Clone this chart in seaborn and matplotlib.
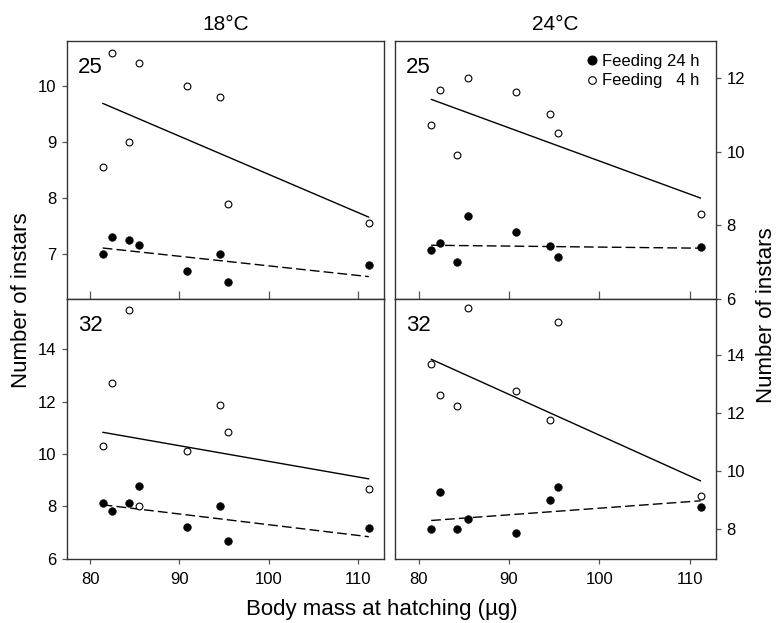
import matplotlib
matplotlib.use("Agg")
import matplotlib.pyplot as plt
from matplotlib.lines import Line2D
import seaborn as sns

sns.set_theme(style="ticks")
plt.rcParams["font.family"] = ["Liberation Sans", "DejaVu Sans"]
plt.rcParams["text.color"] = "black"
plt.rcParams["xtick.labelcolor"] = "black"
plt.rcParams["ytick.labelcolor"] = "black"

# -------------------------------------------------------------
# Data
# -------------------------------------------------------------
mass = [81.4, 82.4, 84.3, 85.5, 90.8, 94.5, 95.4, 111.2]

# 18 C, 25 / 32 panels
t18_25_fed24 = [7.00, 7.30, 7.25, 7.17, 6.70, 7.00, 6.50, 6.80]
t18_25_fed4 = [8.56, 10.58, 9.00, 10.41, 10.00, 9.80, 7.89, 7.55]
t18_32_fed24 = [8.11, 7.83, 8.13, 8.76, 7.22, 8.01, 6.68, 7.17]
t18_32_fed4 = [10.32, 12.73, 15.49, 8.01, 10.11, 11.86, 10.85, 8.66]

# 24 C, 25 / 32 panels
t24_25_fed24 = [7.32, 7.51, 7.01, 8.26, 7.81, 7.44, 7.14, 7.41]
t24_25_fed4 = [10.71, 11.68, 9.90, 12.01, 11.62, 11.01, 10.51, 8.32]
t24_32_fed24 = [7.99, 9.25, 7.99, 8.32, 7.86, 8.99, 9.42, 8.74]
t24_32_fed4 = [13.68, 12.62, 12.24, 15.63, 12.74, 11.74, 15.15, 9.14]

# fitted lines (values at lightest and heaviest body mass)
fit_x = [81.4, 111.2]
fit_18_25_fed24 = [7.11, 6.60]
fit_18_25_fed4 = [9.69, 7.66]
fit_18_32_fed24 = [8.06, 6.84]
fit_18_32_fed4 = [10.83, 9.05]
fit_24_25_fed24 = [7.46, 7.38]
fit_24_25_fed4 = [11.42, 8.74]
fit_24_32_fed24 = [8.28, 8.96]
fit_24_32_fed4 = [13.85, 9.65]

temps = ["18°C", "24°C"]
x_ticks = [80, 90, 100, 110]

# -------------------------------------------------------------
# Figure
# -------------------------------------------------------------
fig = plt.figure(figsize=(7.77, 6.23), dpi=100)

panels = [
    # (left, bottom, width, height), label, fed24, fed4, fit24, fit4, ylim, yticks, right?, top?
    ((0.0862, 0.520, 0.408, 0.414), "25", t18_25_fed24, t18_25_fed4,
     fit_18_25_fed24, fit_18_25_fed4, (6.2, 10.8), [7, 8, 9, 10], False, True),
    ((0.0862, 0.1032, 0.408, 0.4168), "32", t18_32_fed24, t18_32_fed4,
     fit_18_32_fed24, fit_18_32_fed4, (6.0, 15.92), [6, 8, 10, 12, 14], False, False),
    ((0.5084, 0.520, 0.413, 0.414), "25", t24_25_fed24, t24_25_fed4,
     fit_24_25_fed24, fit_24_25_fed4, (6.0, 13.0), [6, 8, 10, 12], True, True),
    ((0.5084, 0.1032, 0.413, 0.4168), "32", t24_32_fed24, t24_32_fed4,
     fit_24_32_fed24, fit_24_32_fed4, (6.96, 15.93), [8, 10, 12, 14], True, False),
]

axes = []
for pos, lab, f24, f4, l24, l4, ylim, yticks, right, top in panels:
    ax = fig.add_axes(pos)
    axes.append(ax)

    sns.lineplot(x=fit_x, y=l4, color="black", lw=1.0, ax=ax)
    sns.lineplot(x=fit_x, y=l24, color="black", lw=1.0,
                 linestyle=(0, (7, 3)), ax=ax)
    sns.scatterplot(x=mass, y=f24, color="black", edgecolor="black",
                    s=32, linewidth=0.3, ax=ax, zorder=3)
    sns.scatterplot(x=mass, y=f4, color="white", edgecolor="black",
                    s=24, linewidth=0.8, ax=ax, zorder=3)

    ax.set_xlim(77.4, 112.9)
    ax.set_ylim(*ylim)
    ax.set_xticks(x_ticks)
    ax.set_yticks(yticks)
    ax.set_xlabel("")
    ax.set_ylabel("")

    for sp in ax.spines.values():
        sp.set_color("#333333")
        sp.set_linewidth(1.0)

    if top:
        ax.tick_params(axis="x", direction="in", length=5.5, width=0.9,
                       color="#555555", labelbottom=False)
    else:
        ax.tick_params(axis="x", direction="out", length=3.5, width=0.9,
                       color="#555555", labelsize=12, pad=6,
                       labelcolor="black")

    if right:
        ax.yaxis.tick_right()
        ax.tick_params(axis="y", left=False, right=True, labelleft=False,
                       labelright=True)
    ax.tick_params(axis="y", direction="out", length=3.5, width=0.9,
                   color="#555555", labelsize=12, pad=4, labelcolor="black")

    ax.text(0.035, 0.94, lab, transform=ax.transAxes, ha="left", va="top",
            fontsize=16, color="black")

axes[0].set_title(temps[0], fontsize=15, pad=8, color="black")
axes[2].set_title(temps[1], fontsize=15, pad=8, color="black")

handles = [
    Line2D([], [], marker="o", ls="", mfc="black", mec="black", ms=6.2),
    Line2D([], [], marker="o", ls="", mfc="white", mec="black", ms=5.5,
           mew=0.8),
]
axes[2].legend(handles, ["Feeding 24 h", "Feeding   4 h"], loc="upper right",
               bbox_to_anchor=(0.97, 0.975), frameon=False, fontsize=12,
               handlelength=0.6, handletextpad=0.3, labelspacing=0.25,
               borderaxespad=0.0, labelcolor="black")

fig.text(0.028, 0.518, "Number of instars", rotation=90, ha="center",
         va="center", fontsize=16, color="black")
fig.text(0.986, 0.494, "Number of instars", rotation=90, ha="center",
         va="center", fontsize=16, color="black")
fig.text(0.492, 0.022, "Body mass at hatching (µg)", ha="center",
         va="center", fontsize=16, color="black")

fig.savefig("out.png", dpi=100)
